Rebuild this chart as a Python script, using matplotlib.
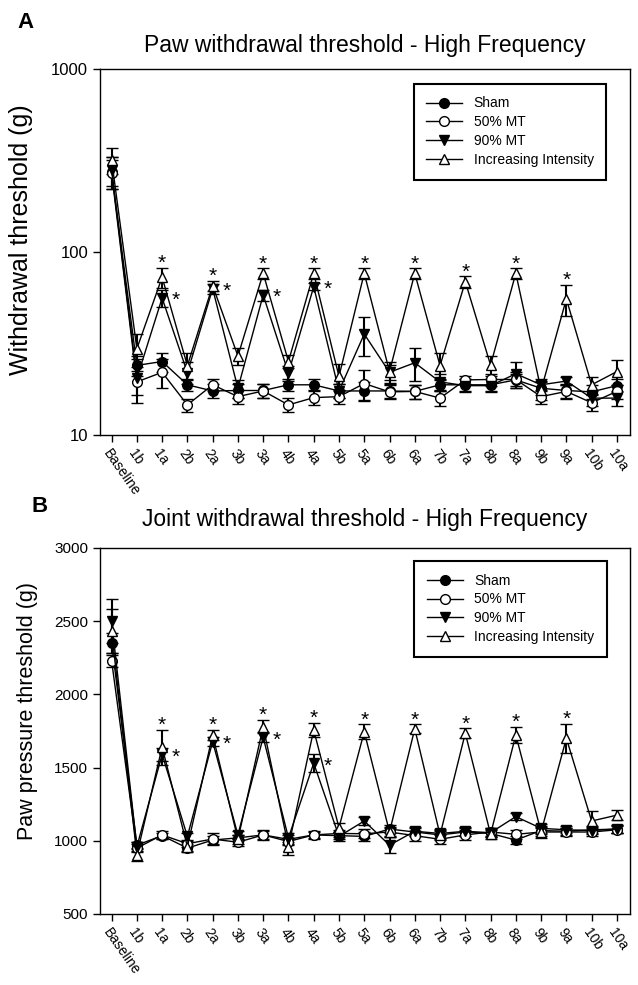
import matplotlib
matplotlib.use("Agg")
import matplotlib.pyplot as plt

plt.rcParams["font.family"] = ["Liberation Sans", "DejaVu Sans"]

sessions = ["Baseline", "1b", "1a", "2b", "2a", "3b", "3a", "4b", "4a", "5b", "5a",
            "6b", "6a", "7b", "7a", "8b", "8a", "9b", "9a", "10b", "10a"]
groups = ["Sham", "50% MT", "90% MT", "Increasing Intensity"]

# panel A - paw withdrawal threshold (g), log scale
paw_sham = [275, 24.0, 25.2, 18.8, 17.4, 17.5, 17.5, 18.8, 18.8, 17.4, 17.4,
            17.4, 17.3, 18.8, 18.8, 18.8, 20.0, 18.0, 17.5, 17.2, 18.6]
paw_50 = [270, 19.5, 22.0, 14.6, 18.8, 16.2, 17.4, 14.6, 16.0, 16.2, 19.1,
          17.2, 17.3, 15.9, 20.0, 20.1, 20.1, 16.2, 17.3, 15.0, 17.3]
paw_90 = [280, 20.4, 56.0, 21.9, 63.0, 18.0, 58.2, 21.8, 64.6, 17.4, 35.6,
          22.0, 24.8, 19.5, 18.6, 18.6, 21.6, 18.8, 19.7, 15.9, 15.9]
paw_inc = [318, 29.6, 72.8, 23.9, 65.5, 27.0, 76.5, 25.2, 76.5, 20.9, 76.5,
           22.2, 76.5, 23.9, 68.8, 24.1, 76.5, 17.6, 55.4, 18.8, 22.2]
paw_sham_err = [55, 3, 3, 1.5, 1.5, 1.5, 1.5, 1.5, 1.5, 1.5, 2,
                1.5, 1.5, 1.5, 1.5, 1.5, 1.5, 1.5, 1.5, 1.5, 1.5]
paw_50_err = [50, 3, 4, 1.2, 1.5, 1.5, 1.5, 1.3, 1.5, 1.5, 3.5,
              1.5, 1.5, 1.5, 1, 1.5, 2, 1.5, 1.5, 1.5, 1.5]
paw_90_err = [50, 5.5, 6, 3, 4, 2, 4, 2, 3, 1.5, 8.5,
              2, 5, 2, 1.5, 1.5, 3.5, 1.5, 1, 1.5, 1.5]
paw_inc_err = [50, 6, 9, 4, 4, 3, 5, 2, 5, 3.5, 5,
               3, 5, 4, 5, 3, 5, 2, 11, 2, 3.5]

# panel B - joint withdrawal / paw pressure threshold (g)
joint_sham = [2350, 970, 1035, 950, 1005, 1020, 1040, 1010, 1040, 1035, 1030,
              1080, 1060, 1040, 1060, 1050, 1005, 1070, 1065, 1075, 1080]
joint_50 = [2230, 950, 1040, 980, 1012, 990, 1040, 995, 1040, 1050, 1048,
            1060, 1035, 1010, 1040, 1060, 1044, 1060, 1060, 1060, 1075]
joint_90 = [2500, 960, 1590, 1030, 1677, 1040, 1707, 1020, 1530, 1030, 1135,
            970, 1065, 1050, 1065, 1055, 1165, 1085, 1075, 1070, 1080]
joint_inc = [2430, 905, 1640, 960, 1723, 1010, 1780, 960, 1757, 1090, 1745,
             1060, 1765, 1040, 1735, 1045, 1723, 1060, 1700, 1135, 1175]
joint_sham_err = [70, 25, 20, 25, 25, 20, 30, 30, 20, 25, 30,
                  30, 30, 25, 25, 25, 30, 25, 25, 25, 25]
joint_50_err = [40, 25, 25, 20, 40, 25, 35, 25, 25, 25, 30,
                35, 35, 30, 35, 30, 30, 30, 25, 25, 25]
joint_90_err = [150, 30, 45, 25, 30, 25, 35, 30, 60, 30, 30,
                55, 30, 30, 30, 30, 25, 30, 25, 25, 25]
joint_inc_err = [150, 45, 120, 30, 35, 30, 45, 55, 50, 30, 50,
                 30, 30, 35, 35, 35, 55, 40, 100, 70, 35]

# sessions marked significant
star_inc = ["1a", "2a", "3a", "4a", "5a", "6a", "7a", "8a", "9a"]
star_90 = ["1a", "2a", "3a", "4a"]

styles = [dict(marker="o", mfc="black"), dict(marker="o", mfc="white"),
          dict(marker="v", mfc="black"), dict(marker="^", mfc="white")]


def draw_panel(ax, series, errs, title, ylabel, title_pad, ylabel_size):
    x = list(range(len(sessions)))
    handles = []
    for vals, err, st, lab in zip(series, errs, styles, groups):
        cont = ax.errorbar(x, vals, yerr=err, color="black", lw=1, ms=7,
                           mec="black", mew=1, elinewidth=1.5, capsize=4,
                           capthick=1.5, label=lab, **st)
        handles.append(cont[0])
    # asterisks
    inc, inc_err = series[3], errs[3]
    m90 = series[2]
    for s in star_inc:
        i = sessions.index(s)
        ax.annotate("*", (i, inc[i] + inc_err[i]), xytext=(0, 3),
                    textcoords="offset points", ha="center", va="center",
                    fontsize=15)
    for s in star_90:
        i = sessions.index(s)
        ax.annotate("*", (i, m90[i]), xytext=(10, -2),
                    textcoords="offset points", ha="center", va="center",
                    fontsize=15)
    ax.set_xlim(-0.46, 20.5)
    ax.set_xticks(x)
    ax.set_xticklabels(sessions, rotation=-55, ha="left", va="top",
                       rotation_mode="anchor", fontsize=10)
    ax.tick_params(axis="both", direction="out", length=5, width=1)
    ax.tick_params(axis="y", labelsize=12)
    ax.set_title(title, fontsize=16.5, pad=title_pad)
    ax.set_ylabel(ylabel, fontsize=ylabel_size)
    for sp in ax.spines.values():
        sp.set_linewidth(1)
    leg = ax.legend(handles=handles, labels=groups, loc="upper right",
                    fontsize=10, frameon=True, fancybox=False,
                    edgecolor="black", framealpha=1, handlelength=2.6,
                    labelspacing=0.35, borderpad=0.9, borderaxespad=0)
    leg.get_frame().set_linewidth(1.5)
    return leg


fig = plt.figure(figsize=(6.38, 9.85), dpi=100)
axA = fig.add_axes([0.1567, 0.5584, 0.83, 0.3716])
axB = fig.add_axes([0.1567, 0.0721, 0.83, 0.3716])

legA = draw_panel(axA, [paw_sham, paw_50, paw_90, paw_inc],
                  [paw_sham_err, paw_50_err, paw_90_err, paw_inc_err],
                  "Paw withdrawal threshold - High Frequency",
                  "Withdrawal threshold (g)", 12, 18)
axA.set_yscale("log")
axA.set_ylim(10, 1000)
axA.set_yticks([10, 100, 1000])
axA.set_yticklabels(["10", "100", "1000"])
axA.minorticks_off()
legA.set_bbox_to_anchor((0.956, 0.959), transform=axA.transAxes)
axA.yaxis.set_label_coords(-0.127, 0.533)

legB = draw_panel(axB, [joint_sham, joint_50, joint_90, joint_inc],
                  [joint_sham_err, joint_50_err, joint_90_err, joint_inc_err],
                  "Joint withdrawal threshold - High Frequency",
                  "Paw pressure threshold (g)", 16, 15.5)
axB.set_ylim(500, 3000)
axB.set_yticks([500, 1000, 1500, 2000, 2500, 3000])
axB.tick_params(axis="y", labelsize=11)
legB.set_bbox_to_anchor((0.957, 0.964), transform=axB.transAxes)
axB.yaxis.set_label_coords(-0.117, 0.555)

fig.text(0.028, 1 - 12 / 985, "A", fontsize=16, fontweight="bold", va="top")
fig.text(0.05, 1 - 496 / 985, "B", fontsize=16, fontweight="bold", va="top")

fig.savefig("out.png", dpi=100)
